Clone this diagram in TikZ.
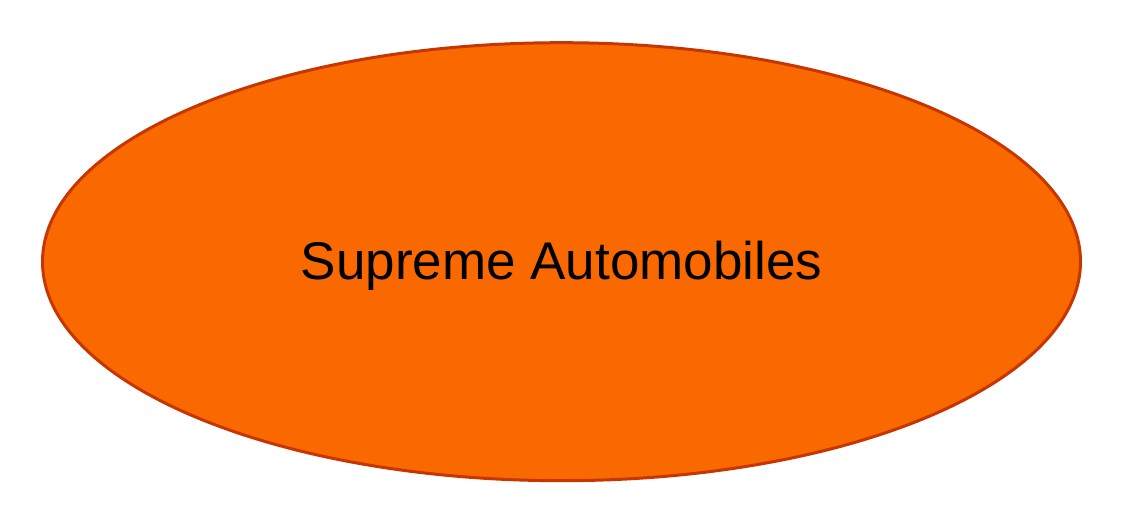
\documentclass[tikz,border=0pt]{standalone}
\usepackage{fontspec}
\setmainfont{Liberation Sans}
\usetikzlibrary{shapes.geometric}
\definecolor{entityfill}{HTML}{FA6800}
\definecolor{entityline}{HTML}{C73500}
\tikzstyle{entity}=[ellipse, draw=entityline, fill=entityfill, line width=3pt, minimum width=1038pt, minimum height=438pt, inner sep=0, text height=47.7pt, text depth=11.1pt, font=\fontsize{53}{64}\selectfont]

\begin{document}
\begin{tikzpicture}[x=1pt, y=1pt]
      \useasboundingbox (0, 0) rectangle (1124, 528);
      \node[entity] (company) at (561.5, 266.3) {Supreme Automobiles};
    \end{tikzpicture}
\end{document}
